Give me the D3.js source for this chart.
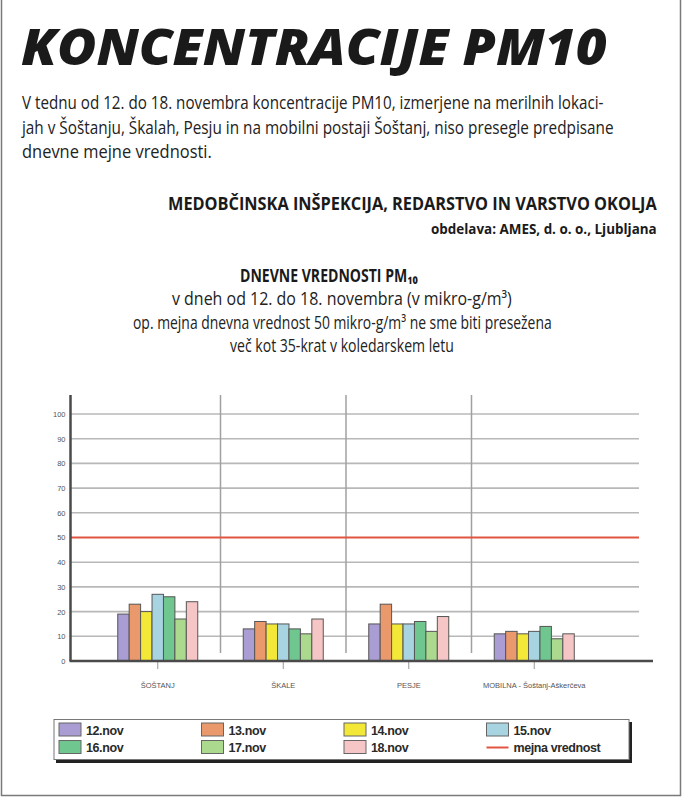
<!DOCTYPE html>
<html>
<head>
<meta charset="utf-8">
<script src="https://cdn.jsdelivr.net/npm/d3@7"></script>
<style>
  body { margin: 0; background: #fff; }
  svg { display: block; }
</style>
</head>
<body>
<svg id="chart" width="684" height="799"></svg>
<script>
// ------------------------------------------------------------
// Podatki: dnevne vrednosti PM10 po merilnih mestih
// ------------------------------------------------------------
const lokacije = ["ŠOŠTANJ", "ŠKALE", "PESJE", "MOBILNA - Šoštanj-Aškerčeva"];
const dnevi = ["12.nov", "13.nov", "14.nov", "15.nov", "16.nov", "17.nov", "18.nov"];
const barve = ["#a99dd3", "#e9996b", "#f3e838", "#a8d4e2", "#6fc68f", "#abda8f", "#f6c6c6"];

const sostanj = [19, 23, 20, 27, 26, 17, 24];
const skale   = [13, 16, 15, 15, 13, 11, 17];
const pesje   = [15, 23, 15, 15, 16, 12, 18];
const mobilna = [11, 12, 11, 12, 14,  9, 11];

const mejnaVrednost = 50;
const yTicks = [0, 10, 20, 30, 40, 50, 60, 70, 80, 90, 100];

const vrednosti = [sostanj, skale, pesje, mobilna];

const svg = d3.select("#chart");
const pisava = "'Open Sans', sans-serif";

/**
 * Izpiše besedilo in ga vodoravno stisne na širino w
 * (nadomestek za ozko pisavo iz izvirnika).
 */
function besedilo(x, y, t, size, weight, w, barva, italic) {
    const el = svg.append("text")
        .attr("font-family", pisava)
        .attr("font-size", size)
        .attr("font-weight", weight)
        .attr("font-style", italic ? "italic" : "normal")
        .attr("fill", barva || "#222")
        .text(t);
    const n = el.node().getComputedTextLength();
    el.attr("transform", "translate(" + x + "," + y + ") scale(" + (w / n) + ",1)");
    return el;
}

// okvir
svg.append("path")
    .attr("d", "M1.5,0 V795.5 H680.5 V0")
    .attr("fill", "none")
    .attr("stroke", "#7a7a7a")
    .attr("stroke-width", 1.5);

// ------------------------------------------------------------
// Besedila
// ------------------------------------------------------------
besedilo(21, 65, "KONCENTRACIJE PM10", 50, "800", 586, "#1a1a1a", true);

besedilo(22, 109, "V tednu od 12. do 18. novembra koncentracije PM10, izmerjene na merilnih lokaci-", 18, "normal", 582);
besedilo(22, 133.5, "jah v Šoštanju, Škalah, Pesju in na mobilni postaji Šoštanj, niso presegle predpisane", 18, "normal", 592);
besedilo(22, 158, "dnevne mejne vrednosti.", 18, "normal", 190);

besedilo(168, 210, "MEDOBČINSKA INŠPEKCIJA, REDARSTVO IN VARSTVO OKOLJA", 18, "bold", 489, "#1a1a1a");
besedilo(431, 234, "obdelava: AMES, d. o. o., Ljubljana", 13.5, "bold", 226, "#1a1a1a");

besedilo(240, 282, "DNEVNE VREDNOSTI PM₁₀", 17.5, "bold", 178, "#1a1a1a");
besedilo(172, 305, "v dneh od 12. do 18. novembra (v mikro-g/m³)", 18, "normal", 340);
besedilo(133, 328.5, "op. mejna dnevna vrednost 50 mikro-g/m³ ne sme biti presežena", 18, "normal", 419);
besedilo(230, 352, "več kot 35-krat v koledarskem letu", 18, "normal", 224);

// ------------------------------------------------------------
// Graf
// ------------------------------------------------------------
const osX = 70.5, dno = 661, vrh = 395;

const x0 = d3.scaleBand().domain(lokacije).range([95, 597]);
const skupina = 80;
const x1 = d3.scaleBand().domain(dnevi).range([0, skupina]);
const y = d3.scaleLinear().domain([0, 100]).range([dno, 414]);

const g = svg.append("g");

// vodoravne mrežne črte
g.selectAll("line.mreza")
    .data(yTicks.filter(v => v > 0 && v !== mejnaVrednost))
    .enter().append("line")
    .attr("class", "mreza")
    .attr("x1", osX).attr("x2", 639)
    .attr("y1", d => y(d)).attr("y2", d => y(d))
    .attr("stroke", "#b8b8b8")
    .attr("stroke-width", 1.6);

// navpične ločnice med lokacijami
g.selectAll("line.locnica")
    .data(lokacije.slice(1))
    .enter().append("line")
    .attr("class", "locnica")
    .attr("x1", d => x0(d)).attr("x2", d => x0(d))
    .attr("y1", vrh).attr("y2", dno - 8)
    .attr("stroke", "#a0a0a0")
    .attr("stroke-width", 1.5);

// mejna vrednost
g.append("line")
    .attr("x1", osX).attr("x2", 639)
    .attr("y1", y(mejnaVrednost)).attr("y2", y(mejnaVrednost))
    .attr("stroke", "#e0553f")
    .attr("stroke-width", 2);

// stolpci
lokacije.forEach(function (lok, i) {
    const zamik = x0(lok) + (x0.bandwidth() - skupina) / 2;
    g.selectAll("rect.s" + i)
        .data(vrednosti[i])
        .enter().append("rect")
        .attr("class", "s" + i)
        .attr("x", (d, j) => zamik + x1(dnevi[j]))
        .attr("y", d => y(d))
        .attr("width", x1.bandwidth())
        .attr("height", d => dno - y(d))
        .attr("fill", (d, j) => barve[j])
        .attr("stroke", "#555")
        .attr("stroke-width", 1);
});

// os y
g.append("line")
    .attr("x1", osX).attr("x2", osX)
    .attr("y1", vrh).attr("y2", dno)
    .attr("stroke", "#4a4a4a")
    .attr("stroke-width", 2.5);

const osY = d3.axisLeft(y).tickValues(yTicks).tickSize(0).tickPadding(5);
const osYg = g.append("g").attr("transform", "translate(" + osX + ",0)").call(osY);
osYg.select(".domain").remove();
osYg.selectAll("text")
    .attr("font-family", "'Liberation Sans', Arial, sans-serif")
    .attr("font-size", 7.5)
    .attr("fill", "#555");

// os x
const osXos = d3.axisBottom(x0).tickSize(8).tickPadding(14);
const osXg = g.append("g").attr("transform", "translate(0," + dno + ")").call(osXos);
osXg.select(".domain").remove();
osXg.selectAll(".tick line").attr("stroke", "#999");
osXg.selectAll("text")
    .attr("font-family", "'Liberation Sans', Arial, sans-serif")
    .attr("font-size", 7.5)
    .attr("fill", "#555");

g.append("line")
    .attr("x1", osX - 1).attr("x2", 653)
    .attr("y1", dno).attr("y2", dno)
    .attr("stroke", "#4a4a4a")
    .attr("stroke-width", 2.5);

// ------------------------------------------------------------
// Legenda
// ------------------------------------------------------------
const legenda = svg.append("g");
legenda.append("rect")
    .attr("x", 56).attr("y", 722).attr("width", 576).attr("height", 41)
    .attr("fill", "#222");
legenda.append("rect")
    .attr("x", 54).attr("y", 719.5).attr("width", 575).attr("height", 40)
    .attr("fill", "#fff")
    .attr("stroke", "#777")
    .attr("stroke-width", 1);

const elementi = dnevi.map((d, i) => ({ime: d, barva: barve[i], crta: false}))
    .concat([{ime: "mejna vrednost", barva: "#e0553f", crta: true}]);

const stolpec = d3.scaleBand().domain([0, 1, 2, 3]).range([59, 629]);

elementi.forEach(function (d, i) {
    const sx = stolpec(i % 4);
    const sy = 723 + Math.floor(i / 4) * 17.5;
    if (d.crta) {
        legenda.append("line")
            .attr("x1", sx).attr("x2", sx + 22)
            .attr("y1", sy + 7).attr("y2", sy + 7)
            .attr("stroke", d.barva).attr("stroke-width", 2);
    } else {
        legenda.append("rect")
            .attr("x", sx).attr("y", sy)
            .attr("width", 22).attr("height", 13)
            .attr("fill", d.barva)
            .attr("stroke", "#666").attr("stroke-width", 1);
    }
    legenda.append("text")
        .attr("x", sx + 27).attr("y", sy + 11.5)
        .attr("font-family", "'Liberation Sans', Arial, sans-serif")
        .attr("font-weight", "bold")
        .attr("font-size", 12.5)
        .attr("letter-spacing", -0.4)
        .attr("fill", "#2a2a2a")
        .text(d.ime);
});
</script>
</body>
</html>
